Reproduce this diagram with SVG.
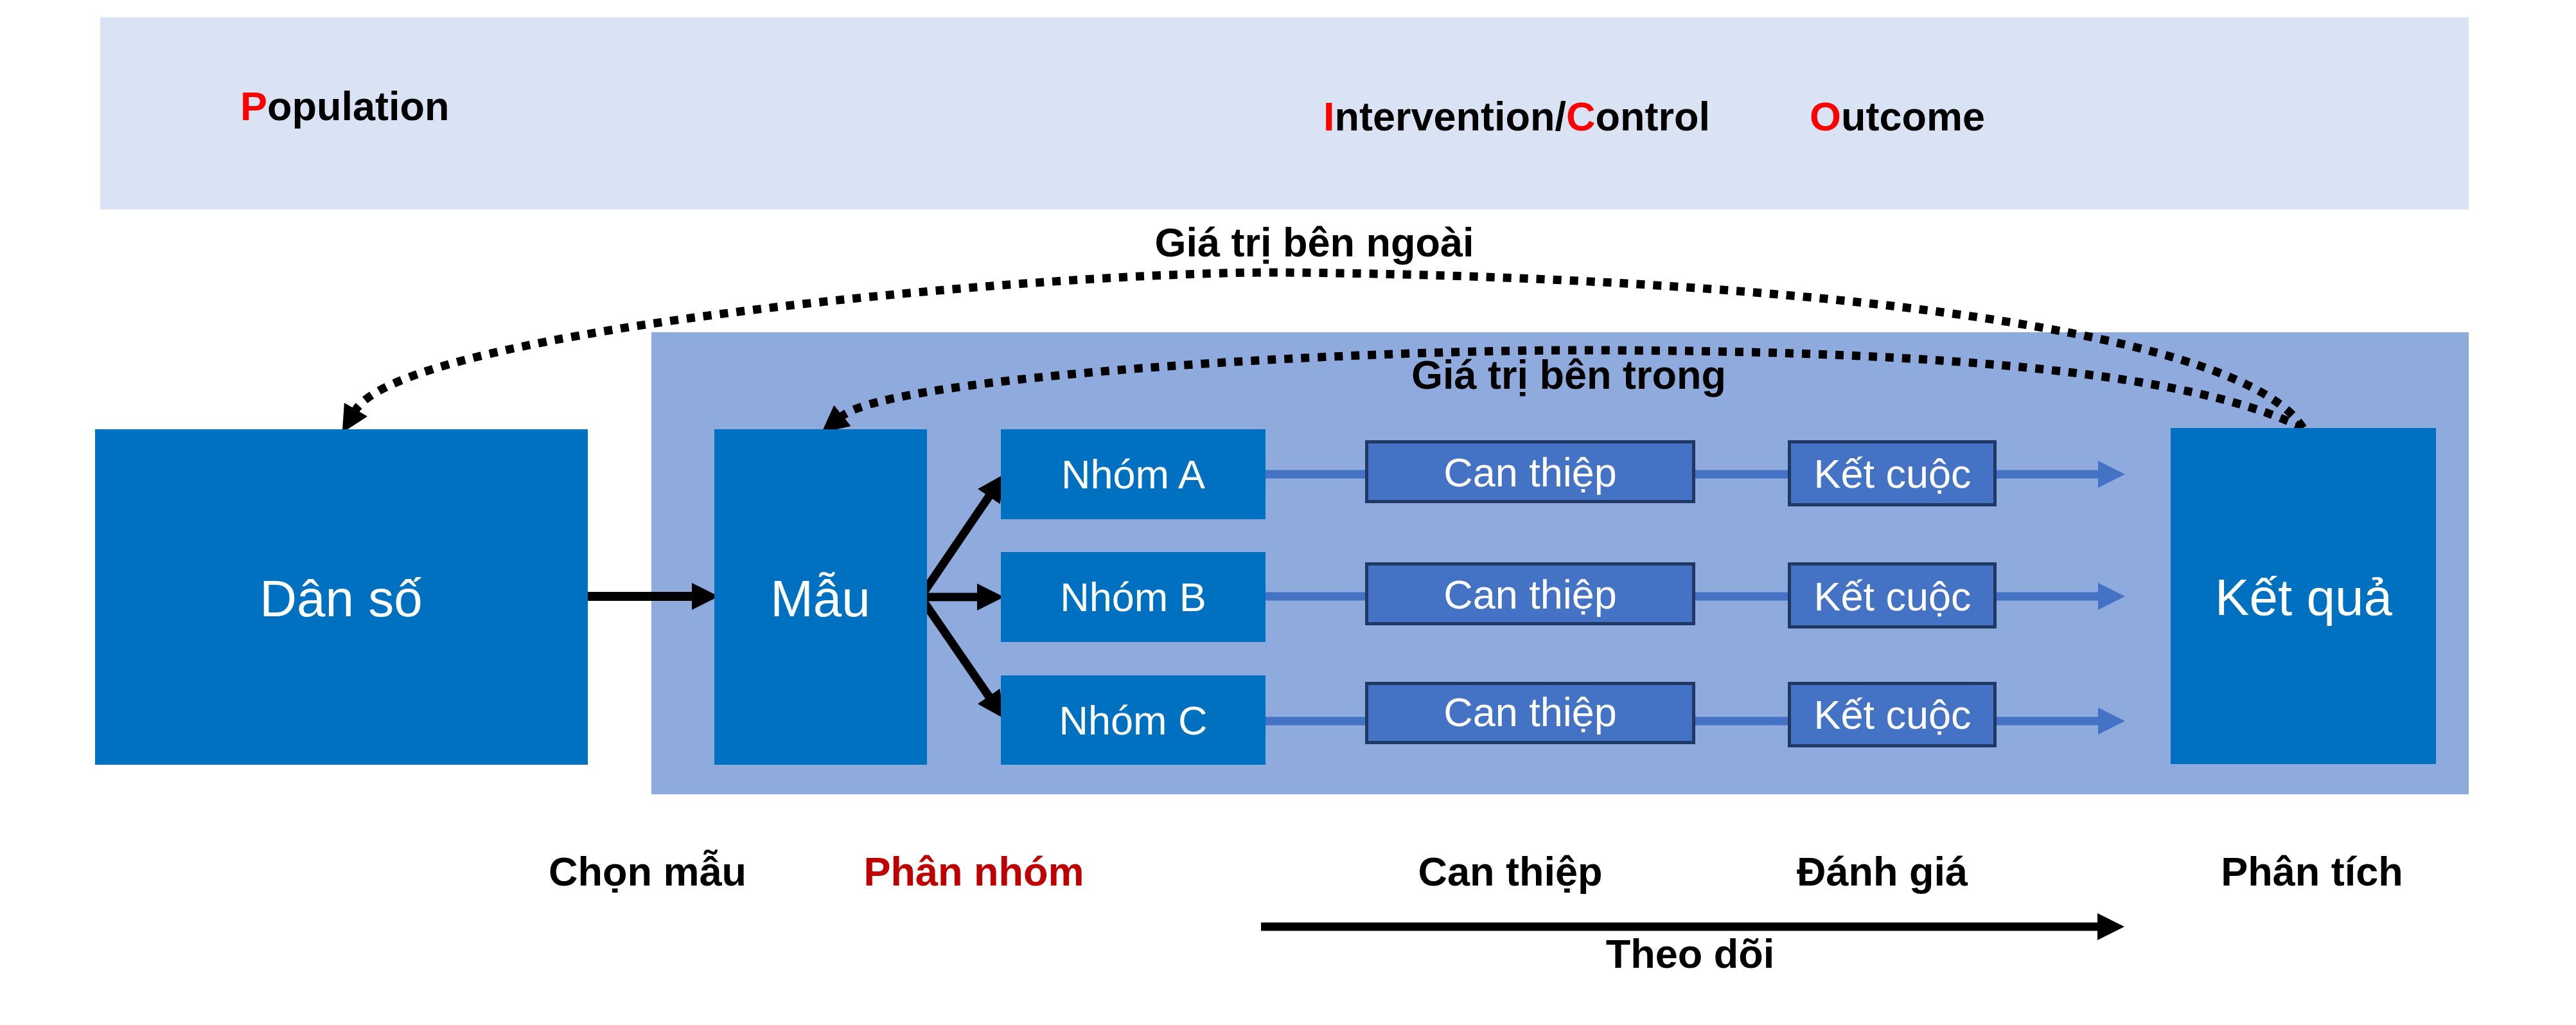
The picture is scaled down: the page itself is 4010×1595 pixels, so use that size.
<svg xmlns="http://www.w3.org/2000/svg" width="4010" height="1595" viewBox="0 0 4010 1595">
<style>
  text { font-family: "Liberation Sans", Arial, sans-serif; }
  .lbl { font-size: 63px; font-weight: bold; fill: #000; }
  .red { fill: #FF0000; }
  .node { fill: #0070C0; }
  .big { font-size: 80px; fill: #FFFFFF; text-anchor: middle; }
  .mid { font-size: 63px; fill: #FFFFFF; text-anchor: middle; }
  .sub { fill: #4472C4; stroke: #203864; stroke-width: 5; }
  .blk { stroke: #000; stroke-width: 13; fill: none; }
  .blue { stroke: #4472C4; stroke-width: 13; fill: none; marker-end: url(#ab); }
  .dot { stroke: #000; stroke-width: 13; fill: none; stroke-dasharray: 13 13; marker-end: url(#ak); }
</style>
<defs>
  <marker id="ak" markerUnits="userSpaceOnUse" markerWidth="44" markerHeight="42" viewBox="0 0 44 42" refX="2" refY="21" orient="auto">
    <path d="M0,0 L42,21 L0,42 z" fill="#000"/>
  </marker>
  <marker id="ab" markerUnits="userSpaceOnUse" markerWidth="44" markerHeight="42" viewBox="0 0 44 42" refX="2" refY="21" orient="auto">
    <path d="M0,0 L42,21 L0,42 z" fill="#4472C4"/>
  </marker>
</defs>

<g id="band-top">
  <rect x="156" y="27" width="3687" height="299" fill="#DAE3F3"/>
  <text class="lbl" x="374" y="187"><tspan class="red">P</tspan>opulation</text>
  <text class="lbl" x="2060" y="203"><tspan class="red">I</tspan>ntervention/<tspan class="red">C</tspan>ontrol</text>
  <text class="lbl" x="2817" y="203"><tspan class="red">O</tspan>utcome</text>
</g>

<g id="band-study">
  <rect x="1014" y="517" width="2829" height="719" fill="#8FAADC"/>
</g>

<g id="connectors">
  <path class="blue" d="M1965,738 H3268"/>
  <path class="blue" d="M1965,928 H3268"/>
  <path class="blue" d="M1965,1122 H3268"/>
  <path class="blk" style="stroke-width:14" marker-end="url(#ak)" d="M913,928 H1079"/>
  <path class="blk" marker-end="url(#ak)" d="M1433,929 L1540.5,771"/>
  <path class="blk" marker-end="url(#ak)" d="M1433,929 H1523"/>
  <path class="blk" marker-end="url(#ak)" d="M1433,929 L1540.3,1085"/>
  <path class="dot" d="M3585,666 C3482,500 2702,430 2000,424 C1650,421 629,510 553,639"/>
  <path class="dot" d="M3585,666 C3385,566 2902,545 2452,545 C2100,545 1388,585 1310,648"/>
  <path class="blk" marker-end="url(#ak)" d="M1963,1442 H3267"/>
</g>

<g id="dan-so">
  <rect class="node" x="148" y="668" width="767" height="522"/>
  <text class="big" x="531" y="959">Dân số</text>
</g>
<g id="mau">
  <rect class="node" x="1112" y="668" width="331" height="522"/>
  <text class="big" x="1277" y="959">Mẫu</text>
</g>
<g id="nhom-a">
  <rect class="node" x="1558" y="668" width="412" height="140"/>
  <text class="mid" x="1764" y="760">Nhóm A</text>
</g>
<g id="nhom-b">
  <rect class="node" x="1558" y="859" width="412" height="140"/>
  <text class="mid" x="1764" y="951">Nhóm B</text>
</g>
<g id="nhom-c">
  <rect class="node" x="1558" y="1051" width="412" height="139"/>
  <text class="mid" x="1764" y="1143">Nhóm C</text>
</g>

<g id="can-thiep-1">
  <rect class="sub" x="2127.5" y="687.5" width="509" height="93"/>
  <text class="mid" x="2382" y="757">Can thiệp</text>
</g>
<g id="can-thiep-2">
  <rect class="sub" x="2127.5" y="877.5" width="509" height="93"/>
  <text class="mid" x="2382" y="947">Can thiệp</text>
</g>
<g id="can-thiep-3">
  <rect class="sub" x="2127.5" y="1063.5" width="509" height="92"/>
  <text class="mid" x="2382" y="1130">Can thiệp</text>
</g>
<g id="ket-cuoc-1">
  <rect class="sub" x="2785.5" y="687.5" width="320" height="98"/>
  <text class="mid" x="2946" y="759">Kết cuộc</text>
</g>
<g id="ket-cuoc-2">
  <rect class="sub" x="2785.5" y="877.5" width="320" height="98"/>
  <text class="mid" x="2946" y="950">Kết cuộc</text>
</g>
<g id="ket-cuoc-3">
  <rect class="sub" x="2785.5" y="1063.5" width="320" height="97"/>
  <text class="mid" x="2946" y="1134">Kết cuộc</text>
</g>

<g id="ket-qua">
  <rect class="node" x="3379" y="666" width="413" height="523"/>
  <text class="big" x="3586" y="957">Kết quả</text>
</g>

<g id="labels">
  <text class="lbl" x="2046" y="399" text-anchor="middle">Giá trị bên ngoài</text>
  <text class="lbl" x="2442" y="605" text-anchor="middle">Giá trị bên trong</text>
  <text class="lbl" x="1008" y="1378" text-anchor="middle">Chọn mẫu</text>
  <text class="lbl" x="1516" y="1378" text-anchor="middle" style="fill:#C00000">Phân nhóm</text>
  <text class="lbl" x="2351" y="1378" text-anchor="middle">Can thiệp</text>
  <text class="lbl" x="2930" y="1378" text-anchor="middle">Đánh giá</text>
  <text class="lbl" x="3599" y="1378" text-anchor="middle">Phân tích</text>
  <text class="lbl" x="2631" y="1506" text-anchor="middle">Theo dõi</text>
</g>
</svg>
